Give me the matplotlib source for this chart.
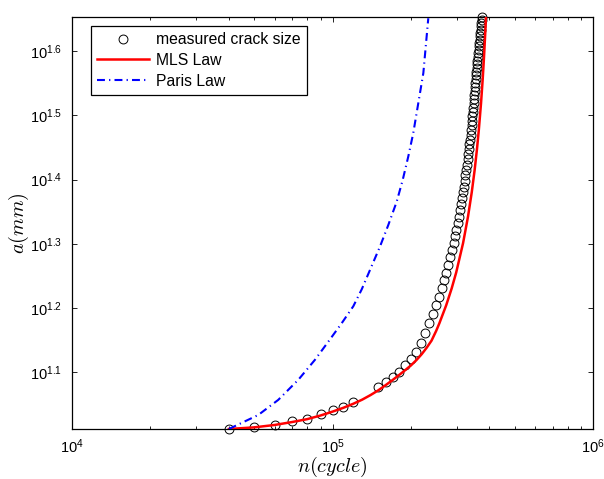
import numpy as np
import matplotlib.pyplot as plt
from matplotlib.ticker import FixedLocator, NullLocator, LogLocator, FuncFormatter

plt.rcParams['font.family'] = ['Liberation Sans', 'DejaVu Sans']
plt.rcParams['mathtext.fontset'] = 'custom'
plt.rcParams['mathtext.rm'] = 'Liberation Sans'
plt.rcParams['mathtext.it'] = 'Liberation Sans:italic'
plt.rcParams['mathtext.bf'] = 'Liberation Sans:bold'

# measured crack size (cycles in thousands, crack length in mm)
meas_n_k = [40, 50, 60, 70, 80, 90, 100, 110, 120,
            150, 160, 170, 180, 190, 200, 210,
            218.5, 227.5, 235.6, 243.2, 250.2, 256.7, 262.7, 268.4, 273.6, 278.5,
            283.1, 287.5, 291.5, 295.4, 299.0, 302.4, 305.6, 308.65, 311.55, 314.3,
            316.9, 319.4, 321.8, 324.0, 326.2, 328.2, 330.2, 332.1, 333.85, 335.6,
            337.2, 338.8, 340.3, 341.8, 343.2, 344.55, 345.85, 347.1, 348.3, 349.5,
            350.6, 351.7, 352.7, 353.7, 354.7, 355.7, 356.6, 357.5, 358.3, 359.7,
            361.0, 362.25, 363.5, 364.7, 366.0, 367.15, 368.3, 369.5, 370.6, 371.7,
            372.6, 373.4, 374.1]
meas_a = [10.26, 10.33, 10.43, 10.56, 10.66, 10.83, 11.0, 11.13, 11.31,
          11.93, 12.16, 12.38, 12.62, 12.9, 13.2, 13.55,
          14.0, 14.5, 15.0, 15.5, 16.0, 16.5, 17.0, 17.5, 18.0, 18.5,
          19.0, 19.5, 20.0, 20.5, 21.0, 21.5, 22.0, 22.5, 23.0, 23.5,
          24.0, 24.5, 25.0, 25.5, 26.0, 26.5, 27.0, 27.5, 28.0, 28.5,
          29.0, 29.5, 30.0, 30.5, 31.0, 31.5, 32.0, 32.5, 33.0, 33.5,
          34.0, 34.5, 35.0, 35.5, 36.0, 36.5, 37.0, 37.5, 38.0, 38.5,
          39.0, 39.5, 40.0, 40.5, 41.0, 41.5, 42.0, 42.5, 43.0, 43.5,
          44.0, 44.5, 45.0]

# MLS law prediction
mls_n_k = [40, 50, 60, 70, 80, 90, 100, 110, 120, 130, 140, 150, 160, 170, 180,
           190, 200, 210, 220, 230, 240, 250, 257.1, 273.1, 286.7, 298.4, 317.1,
           331.3, 342.4, 351.3, 358.5, 364.45, 371.6, 377.2, 381.6, 385.25, 388.3]
mls_a = [10.27, 10.33, 10.42, 10.53, 10.64, 10.78, 10.93, 11.08, 11.24, 11.41,
         11.60, 11.80, 12.02, 12.24, 12.46, 12.68, 12.90, 13.15, 13.43, 13.75,
         14.10, 14.60, 15.0, 16.0, 17.0, 18.0, 20.0, 22.0, 24.0, 26.0, 28.0,
         30.0, 33.0, 36.0, 39.0, 42.0, 45.07]

# Paris law prediction
paris_n_k = [40, 51.9, 61.9, 73.9, 85.6, 96.4, 108.5, 120.2, 129.5, 152.1,
             163.8, 176.4, 186.0, 195.4, 204.2, 223.2, 233.2]
paris_a = [10.27, 10.80, 11.40, 12.25, 13.16, 14.05, 15.01, 15.95, 16.95, 19.75,
           21.35, 23.21, 25.09, 27.29, 29.68, 36.8, 44.8]

ytick_exp = [1.1, 1.2, 1.3, 1.4, 1.5, 1.6]

meas_n = np.array(meas_n_k) * 1e3
mls_n = np.array(mls_n_k) * 1e3
paris_n = np.array(paris_n_k) * 1e3

fig = plt.figure(figsize=(6.04, 4.79), dpi=100)
ax = fig.add_axes([72 / 604, 1 - 429 / 479, 521 / 604, 412 / 479])

ax.plot(meas_n, meas_a, 'o', mfc='none', mec='black', ms=6.4, mew=0.7,
        clip_on=False, label='measured crack size', zorder=3)
ax.plot(mls_n, mls_a, '-', color='red', lw=1.8, label='MLS Law', zorder=4)
ax.plot(paris_n, paris_a, color='blue', lw=1.5, ls=(0, (3.8, 2.0, 0.6, 2.0)),
        label='Paris Law', zorder=4)

ax.set_xscale('log')
ax.set_yscale('log')
ax.set_xlim(1e4, 1e6)
ax.set_ylim(10.27, 45.0)

ax.xaxis.set_major_locator(FixedLocator([1e4, 1e5, 1e6]))
ax.xaxis.set_major_formatter(FuncFormatter(lambda v, p: '$10^{%d}$' % round(np.log10(v))))
ax.xaxis.set_minor_locator(LogLocator(base=10, subs=np.arange(2, 10)))
ax.xaxis.set_minor_formatter(FuncFormatter(lambda v, p: ''))
ax.yaxis.set_major_locator(FixedLocator([10 ** e for e in ytick_exp]))
ax.yaxis.set_major_formatter(FuncFormatter(lambda v, p: '$10^{%.1f}$' % np.log10(v)))
ax.yaxis.set_minor_locator(NullLocator())

ax.tick_params(which='both', direction='in', top=True, right=True, labelsize=10.5)
ax.tick_params(which='major', length=3.6, width=0.6, pad=7)
ax.tick_params(axis='x', which='major', pad=6)
ax.tick_params(which='minor', length=2.2, width=0.6)
for s in ax.spines.values():
    s.set_linewidth(0.9)

ax.set_xlabel('$n(cycle)$', fontsize=14.5, math_fontfamily='cm', labelpad=-0.5)
ax.set_ylabel('$a(mm)$', fontsize=14.5, math_fontfamily='cm', labelpad=-1)

leg = ax.legend(loc='upper left', bbox_to_anchor=(0.036, 0.978), fontsize=11.3,
                frameon=True, fancybox=False, edgecolor='black', framealpha=1,
                handlelength=3.3, handletextpad=0.45, labelspacing=0.36,
                borderpad=0.4, borderaxespad=0)
leg.get_frame().set_linewidth(0.9)

fig.savefig('out.png', dpi=100)
